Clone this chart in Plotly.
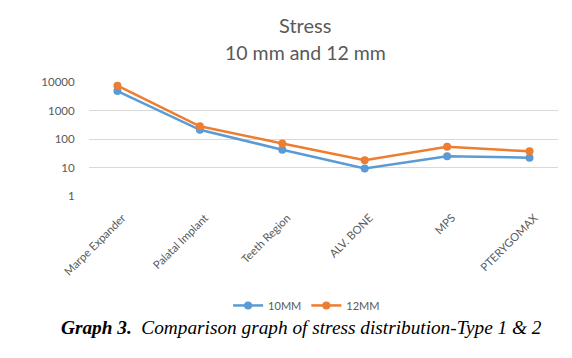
import plotly.graph_objects as go

categories = ["Marpe Expander", "Palatal Implant", "Teeth Region", "ALV. BONE", "MPS", "PTERYGOMAX"]
series_10mm = [4800, 210, 42, 9.3, 25, 22]
series_12mm = [7400, 280, 70, 18, 53, 37]
y_tickvals = [1, 10, 100, 1000, 10000]
y_ticktext = ["1", "10", "100", "1000", "10000"]

BLUE = "#5B9BD5"
ORANGE = "#ED7D31"
GRAY = "#595959"
FONT = "Lato"

fig = go.Figure()
fig.add_trace(go.Scatter(x=categories, y=series_10mm, name="10MM", mode="lines+markers",
                         line=dict(color=BLUE, width=2.5), marker=dict(color=BLUE, size=8),
                         cliponaxis=False))
fig.add_trace(go.Scatter(x=categories, y=series_12mm, name="12MM", mode="lines+markers",
                         line=dict(color=ORANGE, width=2.5), marker=dict(color=ORANGE, size=8),
                         cliponaxis=False))

fig.update_layout(
    width=572, height=358,
    margin=dict(l=89, r=14, t=82, b=162),
    paper_bgcolor="white", plot_bgcolor="white",
    font=dict(family=FONT, color=GRAY, size=11),
    showlegend=True,
    legend=dict(orientation="h", x=0.464, xanchor="center", y=-0.96, yanchor="middle",
                font=dict(size=11, color=GRAY), itemwidth=30, traceorder="normal"),
    xaxis=dict(tickangle=-45, showgrid=False, showline=False, zeroline=False,
               tickfont=dict(size=11.2, color=GRAY), ticks="outside", ticklen=10,
               tickcolor="rgba(0,0,0,0)", ticklabelshift=5),
    yaxis=dict(type="log", range=[0, 4], tickvals=y_tickvals, ticktext=y_ticktext,
               showgrid=True, gridcolor="#D9D9D9", gridwidth=1, zeroline=False, showline=False,
               tickfont=dict(size=11.5, color=GRAY), ticks="outside", ticklen=11,
               tickcolor="rgba(0,0,0,0)"),
    annotations=[
        dict(text="Stress", xref="paper", yref="paper", x=(305 - 89) / 469, y=1 + (82 - 25) / 114.3,
             xanchor="center", yanchor="middle", showarrow=False,
             font=dict(family=FONT, size=20, color=GRAY)),
        dict(text="10 mm and 12 mm", xref="paper", yref="paper", x=(305 - 89) / 469, y=1 + (82 - 52) / 114.3,
             xanchor="center", yanchor="middle", showarrow=False,
             font=dict(family=FONT, size=19.5, color=GRAY)),
        dict(text="<b><i>Graph 3.</i></b>  <i>Comparison graph of stress distribution-Type 1 &amp; 2</i>",
             xref="paper", yref="paper", x=(59 - 89) / 469, y=-(328 - 196) / 114.3,
             xanchor="left", yanchor="middle", showarrow=False,
             font=dict(family="Liberation Serif", size=19.3, color="#000000")),
    ],
)

fig.write_html("out.html", post_script="document.body.style.margin='0';",
               config={"displayModeBar": False})
